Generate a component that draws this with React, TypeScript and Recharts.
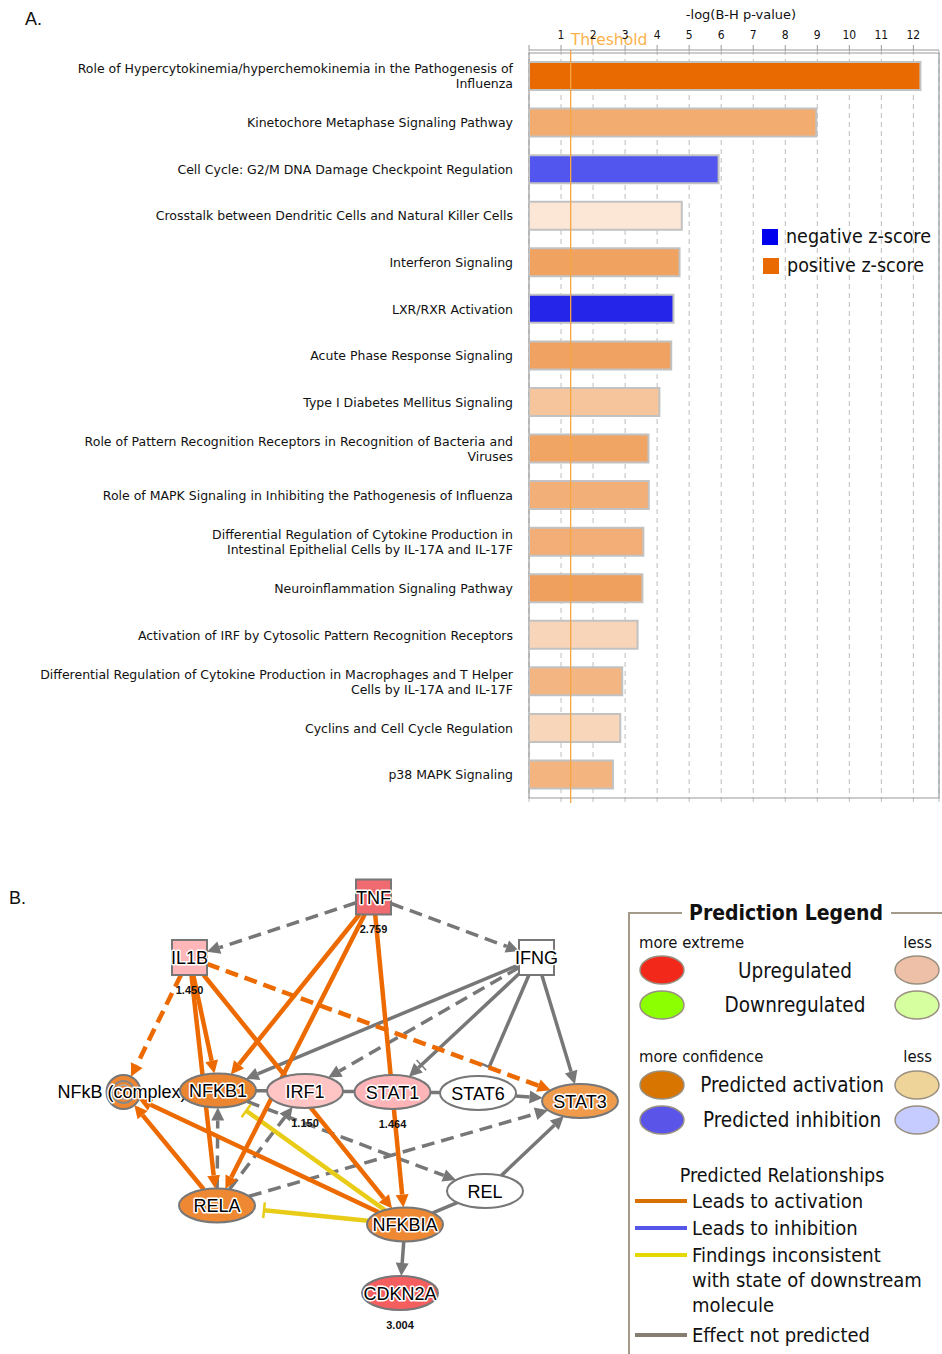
import React from 'react'
import {
  BarChart, Bar, XAxis, YAxis, CartesianGrid, ReferenceLine, ReferenceArea, Cell,
  ScatterChart, Scatter,
} from 'recharts'

// ---- panel A data ----
const pathways = [
  'Role of Hypercytokinemia/hyperchemokinemia in the Pathogenesis of\nInfluenza',
  'Kinetochore Metaphase Signaling Pathway',
  'Cell Cycle: G2/M DNA Damage Checkpoint Regulation',
  'Crosstalk between Dendritic Cells and Natural Killer Cells',
  'Interferon Signaling',
  'LXR/RXR Activation',
  'Acute Phase Response Signaling',
  'Type I Diabetes Mellitus Signaling',
  'Role of Pattern Recognition Receptors in Recognition of Bacteria and\nViruses',
  'Role of MAPK Signaling in Inhibiting the Pathogenesis of Influenza',
  'Differential Regulation of Cytokine Production in\nIntestinal Epithelial Cells by IL-17A and IL-17F',
  'Neuroinflammation Signaling Pathway',
  'Activation of IRF by Cytosolic Pattern Recognition Receptors',
  'Differential Regulation of Cytokine Production in Macrophages and T Helper\nCells by IL-17A and IL-17F',
  'Cyclins and Cell Cycle Regulation',
  'p38 MAPK Signaling',
]
const negLogP = [12.22, 8.97, 5.92, 4.77, 4.7, 4.51, 4.44, 4.07, 3.73, 3.74, 3.57, 3.54, 3.39, 2.91, 2.85, 2.62]
const xTicks = [0, 1, 2, 3, 4, 5, 6, 7, 8, 9, 10, 11, 12]
const threshold = 1.301
const zLegend = ['negative z-score', 'positive z-score']

const BAR_FILLS = [
  '#e96a00', '#f3ac70', '#5256ef', '#fce6d5', '#f0a261', '#2525ea', '#f0a263', '#f7c59c',
  '#f0a565', '#f2b078', '#f2ae76', '#efa05e', '#f8d5b9', '#f3b682', '#f8d6ba', '#f3b47f',
]
const Z_COLORS = ['#0000ee', '#e96a00']

// ---- panel B data ----
const nodes = [
  { id: 'NFkB', label: 'NFkB (complex)', kind: 'complex', x: 12.35, y: 22.2 },
  { id: 'TNF', label: 'TNF', kind: 'square', x: 37.35, y: 2.7, value: 2.759 },
  { id: 'IL1B', label: 'IL1B', kind: 'square', x: 18.95, y: 8.75, value: 1.45 },
  { id: 'IFNG', label: 'IFNG', kind: 'square', x: 53.65, y: 8.75 },
  { id: 'NFKB1', label: 'NFKB1', kind: 'ellipse', x: 21.8, y: 22.05 },
  { id: 'IRF1', label: 'IRF1', kind: 'ellipse', x: 30.5, y: 22.1, value: 1.15 },
  { id: 'STAT1', label: 'STAT1', kind: 'ellipse', x: 39.25, y: 22.2, value: 1.464 },
  { id: 'STAT6', label: 'STAT6', kind: 'ellipse', x: 47.8, y: 22.3 },
  { id: 'STAT3', label: 'STAT3', kind: 'ellipse', x: 58.0, y: 23.1 },
  { id: 'RELA', label: 'RELA', kind: 'ellipse', x: 21.7, y: 33.55 },
  { id: 'REL', label: 'REL', kind: 'ellipse', x: 48.5, y: 32.1 },
  { id: 'NFKBIA', label: 'NFKBIA', kind: 'ellipse', x: 40.5, y: 35.45 },
  { id: 'CDKN2A', label: 'CDKN2A', kind: 'ellipse', x: 40.0, y: 42.3, value: 3.004 },
]

// from, to, relationship, dashed, end
const edges: [string, string, string, boolean, string][] = [
  ['TNF', 'IL1B', 'none', true, 'arrow'],
  ['TNF', 'IFNG', 'none', true, 'arrow'],
  ['IFNG', 'NFKB1', 'none', false, 'arrow'],
  ['IFNG', 'IRF1', 'none', true, 'arrow'],
  ['IFNG', 'STAT1', 'none', false, 'arrowbar'],
  ['IFNG', 'STAT6', 'none', false, 'bar'],
  ['IFNG', 'STAT3', 'none', false, 'arrow'],
  ['NFKB1', 'IRF1', 'none', false, 'line'],
  ['IRF1', 'STAT1', 'none', false, 'line'],
  ['STAT1', 'STAT6', 'none', false, 'line'],
  ['STAT6', 'STAT3', 'none', false, 'arrow'],
  ['NFKB1', 'REL', 'none', true, 'arrow'],
  ['RELA', 'NFKB1', 'none', true, 'arrow'],
  ['RELA', 'IRF1', 'none', true, 'arrow'],
  ['RELA', 'STAT3', 'none', true, 'arrow'],
  ['NFKBIA', 'REL', 'none', false, 'line'],
  ['REL', 'STAT3', 'none', false, 'arrow'],
  ['NFKBIA', 'CDKN2A', 'none', false, 'arrow'],
  ['IL1B', 'NFkB', 'act', true, 'arrow'],
  ['IL1B', 'STAT3', 'act', true, 'arrow'],
  ['NFKBIA', 'RELA', 'inc', false, 'bar'],
  ['NFKBIA', 'NFKB1', 'inc', false, 'bar'],
  ['TNF', 'NFKB1', 'act', false, 'arrow'],
  ['TNF', 'RELA', 'act', false, 'arrow'],
  ['TNF', 'NFKBIA', 'act', false, 'arrow'],
  ['IL1B', 'NFKB1', 'act', false, 'arrow'],
  ['IL1B', 'RELA', 'act', false, 'arrow'],
  ['IL1B', 'NFKBIA', 'act', false, 'arrow'],
  ['RELA', 'NFkB', 'act', false, 'arrow'],
  ['NFKBIA', 'NFkB', 'act', false, 'arrow'],
]

const NODE_FILLS: Record<string, string> = {
  NFkB: '#ee8632', TNF: '#f06b6f', IL1B: '#ffb6b9', IFNG: '#ffffff', NFKB1: '#ec8530',
  IRF1: '#ffc4c4', STAT1: '#ffb4b8', STAT6: '#ffffff', STAT3: '#f09a4c', RELA: '#ee8832',
  REL: '#ffffff', NFKBIA: '#ee8832', CDKN2A: '#f55e5e',
}
const EDGE_COLORS: Record<string, string> = { none: '#777777', act: '#ec6a00', inc: '#e8cc18' }

// ---- panel B legend ----
const legendRows = [
  { label: 'Upregulated', strong: '#f2291a', weak: '#efc0a8' },
  { label: 'Downregulated', strong: '#8cff00', weak: '#d6ffa0' },
]
const predictionRows = [
  { label: 'Predicted activation', strong: '#d87400', weak: '#efd49a' },
  { label: 'Predicted inhibition', strong: '#5a55e8', weak: '#c6ccff' },
]
const relationships = [
  { lines: ['Leads to activation'], color: '#d87000' },
  { lines: ['Leads to inhibition'], color: '#5555e8' },
  { lines: ['Findings inconsistent', 'with state of downstream', 'molecule'], color: '#e4d800' },
  { lines: ['Effect not predicted'], color: '#857d70' },
]

const UI_FONT = "'DejaVu Sans Condensed', 'DejaVu Sans', sans-serif"
const LABEL_FONT = "'DejaVu Sans', sans-serif"
const NET_FONT = "'Liberation Sans', Arial, sans-serif"

const barData = pathways.map((name, i) => ({ name, value: negLogP[i] }))
const nodeById: Record<string, any> = Object.fromEntries(nodes.map((n) => [n.id, n]))

const SIZE = { half: 17.5, rx: 38, ry: 17, r: 17 }

const PathwayTick = (props: any) => {
  const { x, y, payload } = props
  const lines = String(payload.value).split('\n')
  const lh = 15
  const y0 = y - ((lines.length - 1) * lh) / 2
  return (
    <text x={x - 14} y={y0} textAnchor="end" fontSize={12.5} fontFamily={LABEL_FONT} fill="#111">
      {lines.map((l, i) => (
        <tspan key={i} x={x - 14} y={y0 + i * lh} dy="0.36em">{l}</tspan>
      ))}
    </text>
  )
}

function clip(node: any, ux: number, uy: number) {
  if (node.kind === 'square') {
    return Math.min(SIZE.half / Math.max(Math.abs(ux), 1e-6), SIZE.half / Math.max(Math.abs(uy), 1e-6))
  }
  if (node.kind === 'complex') return SIZE.r
  return 1 / Math.sqrt((ux / SIZE.rx) ** 2 + (uy / SIZE.ry) ** 2)
}

const EdgeShape = (props: any) => {
  const { x1, y1, x2, y2, edge } = props
  const [from, to, rel, dashed, end] = edge
  const a = nodeById[from]
  const b = nodeById[to]
  const len = Math.hypot(x2 - x1, y2 - y1)
  const ux = (x2 - x1) / len
  const uy = (y2 - y1) / len
  const px = -uy
  const py = ux
  const s = clip(a, ux, uy)
  const t = len - clip(b, ux, uy)
  const sx = x1 + ux * s
  const sy = y1 + uy * s
  const ex = x1 + ux * t
  const ey = y1 + uy * t
  const color = EDGE_COLORS[rel]
  const w = rel === 'none' ? 3.5 : 4.5
  const dash = dashed ? '13 7' : undefined
  const AL = 13
  const AW = 6.5
  if (end === 'arrow' || end === 'arrowbar') {
    const bx = ex - ux * AL
    const by = ey - uy * AL
    return (
      <g>
        <line x1={sx} y1={sy} x2={bx} y2={by} stroke={color} strokeWidth={w} strokeDasharray={dash} />
        <polygon
          points={`${ex},${ey} ${bx + px * AW},${by + py * AW} ${bx - px * AW},${by - py * AW}`}
          fill={color}
        />
        {end === 'arrowbar' && (
          <line
            x1={bx - ux * 4 + px * 7} y1={by - uy * 4 + py * 7}
            x2={bx - ux * 4 - px * 7} y2={by - uy * 4 - py * 7}
            stroke={color} strokeWidth={1.5}
          />
        )}
      </g>
    )
  }
  if (end === 'bar') {
    const bx = ex - ux * 10
    const by = ey - uy * 10
    return (
      <g>
        <line x1={sx} y1={sy} x2={bx} y2={by} stroke={color} strokeWidth={w} strokeDasharray={dash} />
        <line x1={bx + px * 8} y1={by + py * 8} x2={bx - px * 8} y2={by - py * 8} stroke={color} strokeWidth={2.5} />
      </g>
    )
  }
  return <line x1={sx} y1={sy} x2={ex} y2={ey} stroke={color} strokeWidth={w} strokeDasharray={dash} />
}

const NodeShape = (props: any) => {
  const { cx, cy, payload } = props
  const fill = NODE_FILLS[payload.id]
  const labelStyle = {
    fontFamily: NET_FONT, fontSize: 18, fill: '#000', stroke: '#fff', strokeWidth: 3,
    paintOrder: 'stroke', strokeLinejoin: 'round',
  } as any
  let body
  if (payload.kind === 'square') {
    body = <rect x={cx - SIZE.half} y={cy - SIZE.half} width={SIZE.half * 2} height={SIZE.half * 2} fill={fill} stroke="#777" strokeWidth={2} />
  } else if (payload.kind === 'complex') {
    body = (
      <g>
        <circle cx={cx} cy={cy} r={SIZE.r} fill={fill} stroke="#777" strokeWidth={2} />
        <circle cx={cx} cy={cy} r={11} fill="none" stroke="#888" strokeWidth={2} />
        <circle cx={cx} cy={cy} r={7} fill="none" stroke="#aaa" strokeWidth={1.5} />
      </g>
    )
  } else {
    body = <ellipse cx={cx} cy={cy} rx={SIZE.rx} ry={SIZE.ry} fill={fill} stroke="#777" strokeWidth={2} />
  }
  return (
    <g>
      {body}
      {payload.kind === 'complex' ? (
        <text x={cx - 66} y={cy + 6} style={labelStyle}>{payload.label}</text>
      ) : (
        <text x={cx} y={cy + 6.5} textAnchor="middle" style={labelStyle}>{payload.label}</text>
      )}
      {payload.value != null && (
        <text x={cx} y={cy + 36} textAnchor="middle" fontFamily={NET_FONT} fontSize={11} fontWeight="bold" fill="#111">
          {payload.value.toFixed(3)}
        </text>
      )}
    </g>
  )
}

const ZLegend = () => (
  <div style={{ position: 'absolute', left: 762, top: 222, fontFamily: UI_FONT, fontSize: 19.5, color: '#111', lineHeight: '29px' }}>
    {zLegend.map((z, i) => (
      <div key={z} style={{ display: 'flex', alignItems: 'center' }}>
        <span style={{ display: 'inline-block', width: 16, height: 16, background: Z_COLORS[i], marginRight: 8, marginLeft: i }} />
        {z}
      </div>
    ))}
  </div>
)

const PredictionLegend = () => (
  <svg width={314} height={470} style={{ position: 'absolute', left: 628, top: 884 }} fontFamily={UI_FONT}>
    <g transform="translate(-628,-884)">
      <polyline points="682,913 629,913 629,1354" fill="none" stroke="#a39a8a" strokeWidth={2} />
      <line x1={891} y1={913} x2={942} y2={913} stroke="#a39a8a" strokeWidth={2} />
      <text x={786} y={920} textAnchor="middle" fontSize={21} fontWeight="bold" fill="#111">Prediction Legend</text>
      <text x={639} y={948} fontSize={16.5} fill="#111">more extreme</text>
      <text x={932} y={948} textAnchor="end" fontSize={16.5} fill="#111">less</text>
      {legendRows.map((r, i) => (
        <g key={r.label}>
          <ellipse cx={662} cy={970 + i * 35} rx={22} ry={14} fill={r.strong} stroke="#9a9080" strokeWidth={1.5} />
          <ellipse cx={917} cy={970 + i * 35} rx={22} ry={14} fill={r.weak} stroke="#9a9080" strokeWidth={1.5} />
          <text x={795} y={978 + i * 34} textAnchor="middle" fontSize={20.5} fill="#111">{r.label}</text>
        </g>
      ))}
      <text x={639} y={1062} fontSize={16.5} fill="#111">more confidence</text>
      <text x={932} y={1062} textAnchor="end" fontSize={16.5} fill="#111">less</text>
      {predictionRows.map((r, i) => (
        <g key={r.label}>
          <ellipse cx={662} cy={1085 + i * 35} rx={22} ry={14} fill={r.strong} stroke="#9a9080" strokeWidth={1.5} />
          <ellipse cx={917} cy={1085 + i * 35} rx={22} ry={14} fill={r.weak} stroke="#9a9080" strokeWidth={1.5} />
          <text x={792} y={1092 + i * 35} textAnchor="middle" fontSize={20.5} fill="#111">{r.label}</text>
        </g>
      ))}
      <text x={782} y={1182} textAnchor="middle" fontSize={19.5} fill="#111">Predicted Relationships</text>
      {relationships.map((r, i) => {
        const y = [1201, 1228, 1255, 1335][i]
        return (
          <g key={r.color}>
            <line x1={635} y1={y} x2={687} y2={y} stroke={r.color} strokeWidth={4} />
            {r.lines.map((l, j) => (
              <text key={l} x={692} y={y + 7 + j * 25} fontSize={20} fill="#111">{l}</text>
            ))}
          </g>
        )
      })}
    </g>
  </svg>
)

export default function App() {
  return (
    <div style={{ position: 'relative', width: 942, height: 1354, background: '#fff', overflow: 'hidden' }}>
      <style>{'body{margin:0}'}</style>
      <div style={{ position: 'absolute', left: 25, top: 9, fontFamily: NET_FONT, fontSize: 18, color: '#111' }}>A.</div>
      <div style={{ position: 'absolute', left: 9, top: 888, fontFamily: NET_FONT, fontSize: 18, color: '#111' }}>B.</div>

      <div style={{ position: 'absolute', left: 0, top: 0 }}>
        <BarChart
          layout="vertical"
          width={942}
          height={810}
          data={barData}
          margin={{ top: 20, right: 3, bottom: 7, left: 0 }}
        >
          <CartesianGrid horizontal={false} stroke="#bdbdbd" strokeDasharray="5 4" />
          <XAxis
            type="number"
            orientation="top"
            domain={[0, 12.8]}
            ticks={xTicks}
            allowDataOverflow
            tickFormatter={(v) => (v === 0 ? '' : String(v))}
            tick={{ fontSize: 12, fill: '#111', fontFamily: UI_FONT }}
            tickSize={5}
            tickMargin={6}
            axisLine={{ stroke: '#999' }}
            tickLine={{ stroke: '#999' }}
            label={(p: any) => (
              <text x={741} y={p.viewBox.y - 1} textAnchor="middle" fontSize={13} fill="#111" fontFamily={LABEL_FONT}>
                -log(B-H p-value)
              </text>
            )}
          />
          <YAxis
            type="category"
            dataKey="name"
            width={529}
            interval={0}
            tick={(p: any) => <PathwayTick {...p} />}
            tickLine={false}
            axisLine={false}
            tickSize={0}
            padding={{ top: 3, bottom: 5 }}
          />
          <ReferenceArea x1={0} x2={12.8} fill="none" stroke="#9a9a9a" strokeWidth={1.2} ifOverflow="visible" />
          <Bar dataKey="value" barSize={28} stroke="#c2c2c2" strokeWidth={2} isAnimationActive={false}>
            {barData.map((d, i) => (
              <Cell key={d.name} fill={BAR_FILLS[i]} />
            ))}
          </Bar>
          <ReferenceLine
            x={threshold}
            stroke="#f7a642"
            strokeWidth={1.3}
            ifOverflow="visible"
            label={(p: any) => (
              <text x={p.viewBox.x} y={45} fontSize={15.6} fill="#fbb24c" fontFamily={LABEL_FONT}>Threshold</text>
            )}
          />
        </BarChart>
      </div>
      <ZLegend />

      <div style={{ position: 'absolute', left: 0, top: 870 }}>
        <ScatterChart width={620} height={484} margin={{ top: 0, right: 0, bottom: 0, left: 0 }}>
          <XAxis type="number" dataKey="x" domain={[0, 62]} hide />
          <YAxis type="number" dataKey="y" domain={[0, 48.4]} reversed hide />
          {edges.map((e, i) => {
            const a = nodeById[e[0]]
            const b = nodeById[e[1]]
            return (
              <ReferenceLine
                key={i}
                segment={[{ x: a.x, y: a.y }, { x: b.x, y: b.y }]}
                ifOverflow="visible"
                shape={(p: any) => <EdgeShape {...p} edge={e} />}
              />
            )
          })}
          <Scatter data={nodes} shape={(p: any) => <NodeShape {...p} />} isAnimationActive={false} />
        </ScatterChart>
      </div>

      <PredictionLegend />
    </div>
  )
}
